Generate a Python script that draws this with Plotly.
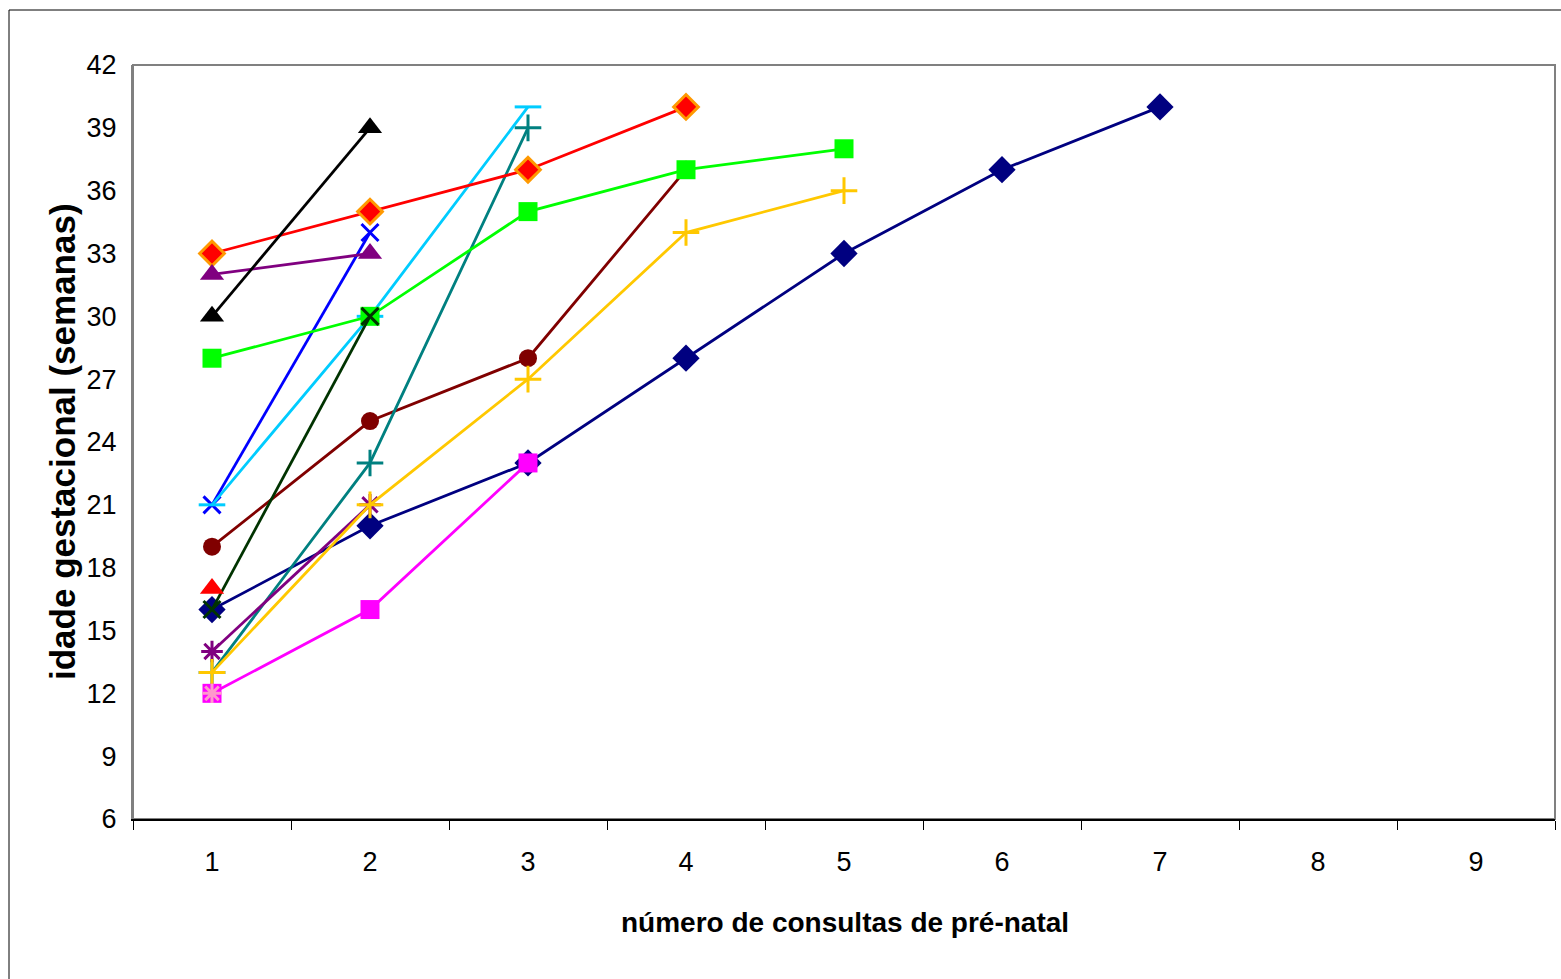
import plotly.graph_objects as go

categories = [1, 2, 3, 4, 5, 6, 7, 8, 9]
tick_labels = ["1", "2", "3", "4", "5", "6", "7", "8", "9"]

navy_diamond = [16, 20, 23, 28, 33, 37, 40, None, None]
maroon_circle = [19, 25, 28, 37, None, None, None, None, None]
teal_plus = [13, 23, 39, None, None, None, None, None, None]
purple_star = [14, 21, None, None, None, None, None, None, None]
gold_plus = [13, 21, 27, 34, 36, None, None, None, None]
magenta_square = [12, 16, 23, None, None, None, None, None, None]
blue_x = [21, 34, None, None, None, None, None, None, None]
cyan_dash = [21, 30, 40, None, None, None, None, None, None]
red_diamond = [33, 35, 37, 40, None, None, None, None, None]
purple_triangle = [32, 33, None, None, None, None, None, None, None]
black_triangle = [30, 39, None, None, None, None, None, None, None]
green_square = [28, 30, 35, 37, 38, None, None, None, None]
darkgreen_x = [16, 30, None, None, None, None, None, None, None]
red_triangle = [17, None, None, None, None, None, None, None, None]
pink_star = [12, None, None, None, None, None, None, None, None]

series = [
    ("navy_diamond", navy_diamond, "#000080", "diamond", 21, None),
    ("maroon_circle", maroon_circle, "#800000", "circle", 18, None),
    ("teal_plus", teal_plus, "#008080", "cross-thin-open", 19, None),
    ("purple_star", purple_star, "#800080", "asterisk-open", 18, None),
    ("gold_plus", gold_plus, "#FFC800", "cross-thin-open", 19, None),
    ("magenta_square", magenta_square, "#FF00FF", "square", 19, None),
    ("blue_x", blue_x, "#0000FF", "x-thin-open", 17, None),
    ("cyan_dash", cyan_dash, "#00CCFF", "line-ew-open", 19, None),
    ("red_diamond", red_diamond, "#FF0000", "diamond", 19, "#FF9900"),
    ("purple_triangle", purple_triangle, "#800080", "triangle-up", 21, None),
    ("black_triangle", black_triangle, "#000000", "triangle-up", 21, None),
    ("green_square", green_square, "#00FF00", "square", 19, None),
    ("darkgreen_x", darkgreen_x, "#003300", "x-thin-open", 17, None),
    ("red_triangle", red_triangle, "#FF0000", "triangle-up", 21, None),
    ("pink_star", pink_star, "#FF99CC", "asterisk-open", 16, None),
]

fig = go.Figure()
for name, vals, color, sym, size, outline in series:
    open_sym = sym.endswith("open")
    marker = dict(symbol=sym, size=size, color=color)
    if outline:
        marker["line"] = dict(color=outline, width=3)
    elif open_sym:
        marker["line"] = dict(color=color, width=3)
    else:
        marker["line"] = dict(width=0)
    fig.add_trace(go.Scatter(
        x=categories, y=vals, mode="lines+markers", name=name,
        line=dict(color=color, width=2.8), marker=marker,
        connectgaps=False, showlegend=False, cliponaxis=False,
    ))

fig.update_layout(
    width=1561, height=979,
    margin=dict(l=133, r=6, t=65, b=160),
    paper_bgcolor="white", plot_bgcolor="white",
    font=dict(family="Liberation Sans, Arial, sans-serif", color="black"),
    xaxis=dict(
        range=[0.5, 9.5], tickmode="array", tickvals=categories, ticktext=tick_labels,
        ticks="", showgrid=False, zeroline=False,
        showline=True, linecolor="black", linewidth=2,
        tickfont=dict(size=27), ticklabelstandoff=18,
        minor=dict(tickmode="array", tickvals=[0.5 + i for i in range(10)],
                   ticks="outside", ticklen=9, tickwidth=1, tickcolor="black"),
    ),
    yaxis=dict(
        range=[6, 42], tickmode="linear", tick0=6, dtick=3,
        ticks="", showgrid=False, zeroline=False,
        showline=True, linecolor="#808080", linewidth=2,
        tickfont=dict(size=27), ticklabelstandoff=9,
    ),
    shapes=[
        dict(type="rect", xref="paper", yref="paper", x0=0, x1=1, y0=0, y1=1,
             line=dict(color="#808080", width=2), layer="below"),
        dict(type="rect", xref="paper", yref="paper",
             x0=(9 - 133) / 1422, x1=1.02, y0=-0.3, y1=(819 - 10) / 754,
             line=dict(color="black", width=1), layer="below"),
    ],
    annotations=[
        dict(text="<b>número de consultas de pré-natal</b>", xref="paper", yref="paper",
             x=(845 - 133) / 1422, y=(819 - 922) / 754, showarrow=False,
             xanchor="center", yanchor="middle", font=dict(size=28)),
        dict(text="<b>idade gestacional (semanas)</b>", xref="paper", yref="paper",
             x=(62 - 133) / 1422, y=(819 - 442) / 754, showarrow=False, textangle=-90,
             xanchor="center", yanchor="middle", font=dict(size=35)),
    ],
)

fig.write_html("out.html")
